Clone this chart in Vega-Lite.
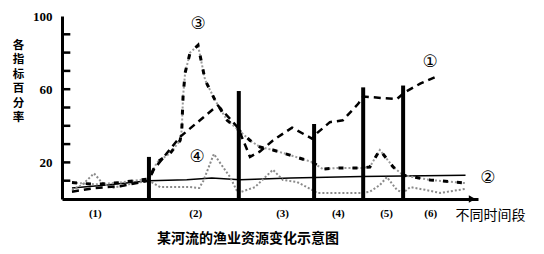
{
  "$schema": "https://vega.github.io/schema/vega-lite/v6.json",
  "autosize": "none",
  "width": 416,
  "height": 183,
  "padding": {"left": 62, "top": 16, "right": 66, "bottom": 55},
  "background": "white",
  "title": {"text": "某河流的渔业资源变化示意图", "orient": "bottom", "anchor": "middle", "frame": "group", "dx": -22, "offset": 10, "fontSize": 14, "font": "Noto Sans CJK SC", "fontWeight": "bold", "color": "black"},
  "config": {"view": {"stroke": null}},
  "datasets": {
    "s1": [
      {"t": 2.4, "v": 4}, {"t": 8, "v": 6}, {"t": 14, "v": 7}, {"t": 20.9, "v": 10}, {"t": 22, "v": 16},
      {"t": 28.4, "v": 34}, {"t": 36.3, "v": 49}, {"t": 37.5, "v": 51}, {"t": 42.3, "v": 39}, {"t": 45.2, "v": 23},
      {"t": 47.6, "v": 26}, {"t": 50.7, "v": 32}, {"t": 55.3, "v": 39}, {"t": 60.1, "v": 33}, {"t": 61.3, "v": 36},
      {"t": 64.4, "v": 42}, {"t": 67.5, "v": 43}, {"t": 71.2, "v": 52}, {"t": 72.4, "v": 56}, {"t": 74, "v": 55.7},
      {"t": 80.5, "v": 54.6}, {"t": 82.5, "v": 58.5}, {"t": 86.1, "v": 63}, {"t": 90.1, "v": 67}
    ],
    "s2": [
      {"t": 2.4, "v": 6}, {"t": 10, "v": 7.5}, {"t": 20.9, "v": 10}, {"t": 30, "v": 10.5}, {"t": 36, "v": 11.5},
      {"t": 42.8, "v": 10.5}, {"t": 55, "v": 11.5}, {"t": 72, "v": 12.3}, {"t": 97, "v": 13}
    ],
    "s3": [
      {"t": 2.4, "v": 9}, {"t": 8, "v": 8}, {"t": 14, "v": 9}, {"t": 20.9, "v": 11}, {"t": 22.8, "v": 20},
      {"t": 26, "v": 25}, {"t": 28.4, "v": 32}, {"t": 28.8, "v": 38}, {"t": 29.1, "v": 56}, {"t": 29.6, "v": 69},
      {"t": 30.8, "v": 80}, {"t": 32.7, "v": 84}, {"t": 34.4, "v": 65}, {"t": 36.8, "v": 54}, {"t": 39.7, "v": 43},
      {"t": 42.3, "v": 38}, {"t": 45.2, "v": 32}, {"t": 47.6, "v": 28.4}, {"t": 50.7, "v": 26.8}, {"t": 54.8, "v": 24},
      {"t": 60.1, "v": 20.2}, {"t": 62.7, "v": 16.4}, {"t": 66.8, "v": 17}, {"t": 72.1, "v": 17}, {"t": 74, "v": 17.5},
      {"t": 76.4, "v": 26.8}, {"t": 79.6, "v": 17.5}, {"t": 82, "v": 13}, {"t": 88.5, "v": 10.4}, {"t": 96.9, "v": 8.7}
    ],
    "s4": [
      {"t": 2.4, "v": 5}, {"t": 4.8, "v": 7.6}, {"t": 7.7, "v": 14}, {"t": 9.6, "v": 9}, {"t": 12, "v": 6},
      {"t": 16, "v": 8}, {"t": 20.9, "v": 10}, {"t": 23.6, "v": 6.5}, {"t": 30.8, "v": 6.5}, {"t": 33, "v": 6},
      {"t": 34, "v": 10}, {"t": 36.5, "v": 24.6}, {"t": 40.4, "v": 12}, {"t": 42.3, "v": 3.3}, {"t": 46.4, "v": 6.5},
      {"t": 50.7, "v": 16}, {"t": 53.1, "v": 10.4}, {"t": 56.5, "v": 9.3}, {"t": 60.1, "v": 5}, {"t": 61.3, "v": 3.3},
      {"t": 72.1, "v": 3.3}, {"t": 74, "v": 4}, {"t": 76.4, "v": 7.6}, {"t": 78.1, "v": 12}, {"t": 80.5, "v": 5},
      {"t": 82, "v": 3.3}, {"t": 83.7, "v": 6.5}, {"t": 87.3, "v": 5}, {"t": 90.9, "v": 3.3}, {"t": 96.9, "v": 5.5}
    ],
    "bars": [
      {"t": 20.9, "v": 23}, {"t": 42.5, "v": 59}, {"t": 60.6, "v": 41}, {"t": 72.4, "v": 61}, {"t": 82.0, "v": 62}
    ],
    "labels": [
      {"t": 88.5, "v": 75, "label": "①"}, {"t": 102.4, "v": 11.5, "label": "②"},
      {"t": 32.7, "v": 95.6, "label": "③"}, {"t": 32.5, "v": 23, "label": "④"}
    ],
    "yticks": [
      {"t": 0, "t2": 2, "v": 10}, {"t": 0, "t2": 2, "v": 20}, {"t": 0, "t2": 2, "v": 30}, {"t": 0, "t2": 2, "v": 40},
      {"t": 0, "t2": 2, "v": 50}, {"t": 0, "t2": 2, "v": 60}, {"t": 0, "t2": 2, "v": 70}, {"t": 0, "t2": 2, "v": 80},
      {"t": 0, "t2": 2, "v": 90}
    ],
    "arrow": [{"t": 98.6, "v": 0}]
  },
  "encoding": {
    "x": {"field": "t", "type": "quantitative", "scale": {"domain": [0, 100], "nice": false, "zero": false},
      "axis": {"values": [7.9, 32, 52.9, 66.3, 77.9, 88.5],
        "labelExpr": "datum.value < 20 ? '(1)' : datum.value < 40 ? '(2)' : datum.value < 60 ? '(3)' : datum.value < 70 ? '(4)' : datum.value < 80 ? '(5)' : '(6)'",
        "ticks": false, "grid": false, "domainColor": "black", "domainWidth": 3,
        "labelFont": "Liberation Serif", "labelFontWeight": "bold", "labelFontSize": 11, "labelColor": "black",
        "labelPadding": 8, "labelBaseline": "top",
        "title": "不同时间段", "titleX": 393, "titleY": 16, "titleAlign": "left", "titleBaseline": "middle",
        "titleFont": "Noto Sans CJK SC", "titleFontSize": 14, "titleFontWeight": "normal", "titleColor": "black"}},
    "y": {"field": "v", "type": "quantitative", "scale": {"domain": [0, 100], "nice": false},
      "axis": {"values": [20, 60, 100],
        "ticks": false, "grid": false, "domainColor": "black", "domainWidth": 3,
        "labelFont": "Liberation Serif", "labelFontWeight": "bold", "labelFontSize": 13, "labelColor": "black",
        "labelPadding": 10,
        "title": ["各", "指", "标", "百", "分", "率"], "titleAngle": 0, "titleX": -44, "titleY": 23,
        "titleAlign": "center", "titleBaseline": "top", "titleLineHeight": 14.5,
        "titleFont": "Noto Sans CJK SC", "titleFontSize": 11.5, "titleFontWeight": "bold", "titleColor": "black"}}
  },
  "layer": [
    {"data": {"name": "s2"}, "mark": {"type": "line", "color": "black", "strokeWidth": 1.5}},
    {"data": {"name": "s4"}, "mark": {"type": "line", "color": "#8a8a8a", "strokeWidth": 2, "strokeDash": [2, 2]}},
    {"data": {"name": "s3"}, "mark": {"type": "line", "color": "#9a9a9a", "strokeWidth": 2, "strokeDash": [2, 2]}},
    {"data": {"name": "s3"}, "mark": {"type": "line", "color": "black", "strokeWidth": 3, "strokeDash": [5, 9]}},
    {"data": {"name": "s1"}, "mark": {"type": "line", "color": "black", "strokeWidth": 2.5, "strokeDash": [7, 5]}},
    {"data": {"name": "bars"}, "mark": {"type": "rule", "color": "black", "strokeWidth": 4}, "encoding": {"y2": {"datum": 0}}},
    {"data": {"name": "yticks"}, "mark": {"type": "rule", "color": "black", "strokeWidth": 2.5, "opacity": 1}, "encoding": {"x2": {"field": "t2"}}},
    {"data": {"name": "labels"}, "mark": {"type": "text", "font": "DejaVu Sans", "fontSize": 17, "color": "black", "clip": false}, "encoding": {"text": {"field": "label"}}},
    {"data": {"name": "arrow"}, "mark": {"type": "point", "shape": "triangle-right", "filled": true, "color": "black", "size": 60, "opacity": 1}}
  ]
}
